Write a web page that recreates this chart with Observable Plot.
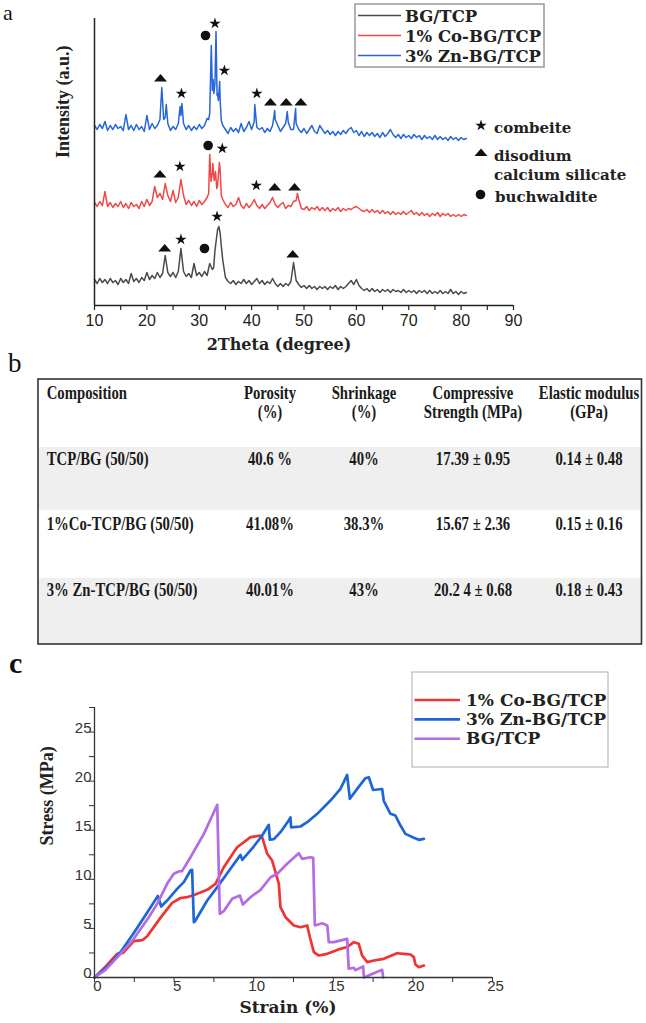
<!DOCTYPE html>
<html>
<head>
<meta charset="utf-8">
<script src="https://cdn.jsdelivr.net/npm/d3@7"></script>
<script src="https://cdn.jsdelivr.net/npm/@observablehq/plot@0.6"></script>
<style>
  body { margin: 0; background: #fff; }
  #fig { position: relative; width: 646px; height: 1023px; overflow: hidden; background: #fff; }
  #fig > svg { position: absolute; left: 0; }
</style>
</head>
<body>
<div id="fig"></div>
<script>
// ---------- (a) XRD patterns ----------
const samples = ["BG/TCP", "1% Co-BG/TCP", "3% Zn-BG/TCP"];
const thetaStart = 10, thetaStep = 0.5;

// intensities (a.u., stacked as displayed) sampled every 0.5° from 10° to 81°
const bgTcpXrd = [
  26,22,27,23,26,22,27,23,25,21,27,23,26,22,32,24,27,23,28,25,33,26,30,27,33,28,
  32,50,33,29,33,28,34,57,34,29,32,28,42,30,33,29,34,30,42,36,55,76,72,45,
  28,24,22,25,21,24,22,26,22,25,21,24,27,22,25,21,24,22,27,22,19,22,19,22,20,24,43,25,21,18,20,17,
  20,17,19,16,19,17,19,16,19,17,20,16,19,17,19,22,25,21,26,20,17,15,17,14,17,14,16,13,16,14,16,13,16,14,15,13,16,13,15,13,15,12,15,13,15,12,15,12,14,12,15,12,14,12,16,12,14,11,14,12,13
];
const coXrd = [
  103,99,104,100,114,99,103,98,102,99,104,98,102,97,103,99,101,97,104,99,106,100,104,119,108,112,
  106,122,110,104,115,103,108,126,110,101,105,100,104,99,105,101,104,108,151,132,128,120,135,106,
  101,98,103,99,101,108,100,97,102,98,101,106,100,97,101,97,100,103,108,101,98,101,103,97,100,99,104,105,106,97,96,99,
  95,98,96,99,95,98,95,98,94,97,95,98,94,97,95,97,96,98,99,97,95,94,96,93,96,93,95,92,95,92,94,91,94,91,93,91,94,91,93,95,91,93,90,93,90,92,89,92,90,93,89,92,90,92,89,91,89,91,89,91,90
];
const znXrd = [
  180,176,181,177,184,175,180,176,181,177,179,175,191,176,180,175,181,176,179,174,190,176,182,177,180,186,
  205,188,182,175,179,176,182,190,182,176,180,175,179,176,181,177,180,187,192,215,222,212,205,180,
  176,172,178,174,177,173,182,174,178,184,176,184,178,176,178,173,177,174,180,186,180,174,178,182,183,176,176,182,176,173,177,172,
  176,180,174,172,180,176,172,175,171,174,170,174,171,175,172,176,178,173,175,170,174,169,173,170,173,169,172,168,173,169,172,176,171,168,171,167,171,168,170,167,171,168,170,166,170,167,169,166,170,166,169,166,168,165,169,166,168,165,168,166,167
];

// sharp reflections between the sampling steps: [2θ, intensity]
const bgTcpPeaks = [[32.75, 38], [33.75, 79], [34.2, 60]];
const coPeaks = [[31.8, 112], [32.25, 124], [32.6, 142], [32.85, 125], [33.1, 134], [33.35, 117], [33.85, 143], [34.2, 110], [48.75, 112]];
const znPeaks = [[22.85, 218], [23.2, 186], [23.7, 201], [26.35, 199], [26.7, 202], [31.8, 186], [32.3, 260], [32.65, 226], [32.8, 212],
  [33.2, 274], [33.4, 210], [33.65, 205], [33.9, 224], [34.2, 185], [40.6, 201], [44.4, 195], [46.8, 194], [48.4, 197]];

// phase markers: [2θ, intensity]
const combeite = [[33.0, 282], [34.8, 235], [26.6, 212], [41.0, 212], [34.4, 157], [26.3, 139], [40.9, 120], [33.4, 89], [26.5, 66]];
const disodiumCalciumSilicate = [[22.6, 227], [43.6, 203], [46.6, 203], [49.4, 203], [22.5, 131], [44.4, 118], [48.2, 118], [23.4, 57], [47.85, 51]];
const buchwaldite = [[31.2, 270], [31.7, 160], [31.0, 57]];

const phaseNames = ["combeite", "disodium", "calcium silicate", "buchwaldite"];
const xrdMajorTicks = [10, 20, 30, 40, 50, 60, 70, 80, 90];
const xrdMinorTicks = [15, 25, 35, 45, 55, 65, 75, 85];

// ---------- (b) table ----------
const tableHeader = [["Composition"], ["Porosity", "(%)"], ["Shrinkage", "(%)"], ["Compressive", "Strength (MPa)"], ["Elastic modulus", "(GPa)"]];
const compositions = ["TCP/BG (50/50)", "1%Co-TCP/BG (50/50)", "3% Zn-TCP/BG (50/50)"];
const porosity = ["40.6 %", "41.08%", "40.01%"];
const shrinkage = ["40%", "38.3%", "43%"];
const compressiveStrength = ["17.39 ± 0.95", "15.67 ± 2.36", "20.2 4 ± 0.68"];
const elasticModulus = ["0.14 ± 0.48", "0.15 ± 0.16", "0.18 ± 0.43"];

// ---------- (c) stress–strain curves: [strain %, stress MPa] ----------
const stressSamples = ["1% Co-BG/TCP", "3% Zn-BG/TCP", "BG/TCP"];
const coStress = [[0,0],[0.69,1.1],[1.42,2.4],[1.8,2.5],[2.47,3.7],[3.0,3.8],[3.31,4.2],[4.15,6.1],[4.88,7.6],[5.4,8.1],[5.82,8.18],[6.34,8.45],
  [7.08,8.93],[7.6,9.54],[8.12,11.23],[8.96,13.27],[9.8,14.29],[10.43,14.46],[10.53,14.3],[10.85,12.6],[11.16,11.91],[11.58,9.54],[11.68,7.16],
  [12.0,6.14],[12.52,5.3],[12.94,5.12],[13.36,5.3],[13.53,4.1],[13.78,2.58],[14.09,2.24],[14.62,2.41],[15.45,2.92],[15.87,3.1],[16.29,3.6],
  [16.6,3.43],[16.81,2.24],[17.13,1.56],[17.55,1.73],[18.17,1.9],[19.01,2.47],[19.43,2.41],[19.85,2.34],[20.06,2.07],[20.16,1.32],[20.37,1.05],[20.69,1.22]];
const znStress = [[0,0],[1.0,1.4],[1.63,2.58],[2.5,4.6],[3.3,6.6],[3.98,8.3],[4.19,7.23],[4.56,7.84],[5.19,9.03],[5.61,9.71],[6.03,10.9],[6.13,10.97],
  [6.24,5.63],[6.34,5.8],[7.08,7.84],[7.71,9.2],[8.54,11.07],[9.17,12.49],[9.28,11.98],[10.0,13.34],[10.53,14.46],[10.95,15.55],[11.01,14.05],
  [11.27,14.1],[11.68,14.8],[12.2,15.99],[12.31,16.3],[12.35,15.3],[12.94,15.38],[13.36,15.82],[13.99,16.67],[14.82,18.02],[15.45,19.21],
  [15.87,20.64],[16.04,18.2],[16.5,19.21],[17.02,20.3],[17.23,20.4],[17.5,19.1],[18.07,19.2],[18.17,18.0],[18.59,16.67],[18.9,16.5],
  [19.22,15.48],[19.53,14.63],[20.06,14.23],[20.37,14.02],[20.69,14.12]];
const bgTcpStress = [[0,0],[0.69,0.78],[1.63,2.41],[2.47,3.94],[3.41,6.14],[3.94,7.5],[4.56,9.54],[4.98,10.56],[5.29,10.8],[5.5,10.83],[6.03,12.25],
  [6.87,14.63],[7.71,17.59],[7.87,6.49],[8.12,6.76],[8.65,8.01],[9.13,8.35],[9.32,7.43],[9.8,8.18],[10.43,8.93],[11.06,10.21],[11.48,10.56],
  [12.1,11.58],[12.83,12.66],[13.04,12.08],[13.57,12.25],[13.74,12.18],[13.84,5.3],[14.3,5.53],[14.62,5.3],[14.72,3.6],[15.03,3.6],[15.87,3.94],
  [15.97,0.89],[16.29,0.99],[16.39,0.75],[16.88,1.12],[16.92,0],[18.07,0.78],[18.13,0]];
const strainLabelTicks = [0, 5, 10, 15, 20, 25];
const strainMinorTicks = [2.5, 7.5, 12.5, 17.5, 22.5];
const stressLabelTicks = [0, 5, 10, 15, 20, 25];
const stressAllTicks = [0, 2.5, 5, 7.5, 10, 12.5, 15, 17.5, 20, 22.5, 25, 27.5];

// ---------- styling ----------
const xrdColors = ["#4b4b4b", "#f04848", "#2766d8"];
const stressColors = ["#ee3434", "#1c66d8", "#b46ce2"];
const SERIF = "'Liberation Serif', 'Times New Roman', serif";
const WIDE_SERIF = "'DejaVu Serif', serif";
const SANS = "'Liberation Sans', Arial, sans-serif";

// a flattened triangle marker
const flatTriangle = {
  draw(ctx, size) {
    const r = Math.sqrt(size / Math.PI), w = r * 1.3, h = r * 1.5;
    ctx.moveTo(0, -h * 0.6); ctx.lineTo(w, h * 0.4); ctx.lineTo(-w, h * 0.4); ctx.closePath();
  }
};
const starR = 3.6, triR = 5, circR = 4.8;

function pattern(values, peaks, name) {
  const pts = values.map((v, i) => ({theta: thetaStart + i * thetaStep, I: v}))
    .concat(peaks.map(([t, v]) => ({theta: t, I: v})));
  pts.sort((a, b) => a.theta - b.theta);
  return pts.map(d => ({...d, sample: name}));
}
const xrd = [
  ...pattern(bgTcpXrd, bgTcpPeaks, samples[0]),
  ...pattern(coXrd, coPeaks, samples[1]),
  ...pattern(znXrd, znPeaks, samples[2])
];

const fig = document.getElementById("fig");

const plotA = Plot.plot({
  width: 646, height: 358,
  marginLeft: 94, marginRight: 133, marginTop: 18, marginBottom: 53,
  style: {fontFamily: SANS, fontSize: "16px", color: "#222", background: "transparent"},
  x: {domain: [10, 90], label: null},
  y: {domain: [0, 287], label: null, axis: null},
  color: {domain: samples, range: xrdColors},
  marks: [
    Plot.line(xrd, {x: "theta", y: "I", z: "sample", stroke: "sample", strokeWidth: 1.5}),
    Plot.dot(combeite, {x: d => d[0], y: d => d[1], symbol: "star", r: starR, fill: "#111", stroke: "none"}),
    Plot.dot(disodiumCalciumSilicate, {x: d => d[0], y: d => d[1], symbol: flatTriangle, r: triR, fill: "#111", stroke: "none"}),
    Plot.dot(buchwaldite, {x: d => d[0], y: d => d[1], symbol: "circle", r: circR, fill: "#111", stroke: "none"}),
    Plot.ruleY([0], {stroke: "#222", strokeWidth: 1.5}),
    Plot.ruleX([10], {stroke: "#222", strokeWidth: 1.5}),
    Plot.axisX({ticks: [...xrdMajorTicks, ...xrdMinorTicks], tickSize: 5, tickFormat: () => "", label: null, strokeWidth: 1.2}),
    Plot.axisX({ticks: xrdMajorTicks, tickSize: 0, tickPadding: 9, label: null, fill: "#222"}),
    Plot.text(["Intensity (a.u.)"], {frameAnchor: "left", dx: -31, dy: -4, rotate: -90,
      fontFamily: SERIF, fontWeight: "bold", fontSize: 18, fill: "#222"}),
    Plot.text(["2Theta (degree)"], {frameAnchor: "bottom", dx: -25, dy: 44,
      fontFamily: WIDE_SERIF, fontWeight: "bold", fontSize: 16, fill: "#222"})
  ]
});
plotA.style.top = "0px";
fig.appendChild(plotA);

const stress = [
  ...coStress.map(([x, y]) => ({strain: x, stress: y, sample: stressSamples[0]})),
  ...znStress.map(([x, y]) => ({strain: x, stress: y, sample: stressSamples[1]})),
  ...bgTcpStress.map(([x, y]) => ({strain: x, stress: y, sample: stressSamples[2]}))
];

const plotC = Plot.plot({
  width: 646, height: 373,
  marginLeft: 94, marginRight: 154, marginTop: 57, marginBottom: 46,
  style: {fontFamily: SANS, fontSize: "15px", color: "#333", background: "transparent"},
  x: {domain: [0, 25], label: null},
  y: {domain: [0, 27.5], label: null},
  color: {domain: stressSamples, range: stressColors},
  marks: [
    Plot.line(stress, {x: "strain", y: "stress", z: "sample", stroke: "sample", strokeWidth: 2.7, strokeLinejoin: "round"}),
    Plot.ruleY([0], {stroke: "#333", strokeWidth: 1.3}),
    Plot.ruleX([0], {stroke: "#333", strokeWidth: 1.3}),
    Plot.axisX({ticks: [...strainLabelTicks, ...strainMinorTicks], tickSize: 5, tickFormat: () => "", label: null}),
    Plot.axisX({ticks: strainLabelTicks, tickSize: 0, tickPadding: 3, dx: 3, label: null, fill: "#333"}),
    Plot.axisY({ticks: stressAllTicks, tickSize: 5, tickFormat: () => "", label: null}),
    Plot.axisY({ticks: stressLabelTicks, tickSize: 0, tickPadding: 3, dy: -4, label: null, fill: "#333"}),
    Plot.text(["Stress (MPa)"], {frameAnchor: "left", dx: -47, dy: 3, rotate: -90,
      fontFamily: SERIF, fontWeight: "bold", fontSize: 18, fill: "#222"}),
    Plot.text(["Strain (%)"], {frameAnchor: "bottom", dx: -5.5, dy: 35,
      fontFamily: WIDE_SERIF, fontWeight: "bold", fontSize: 17, fill: "#222"})
  ]
});
plotC.style.top = "650px";
fig.appendChild(plotC);

// ---------- overlay: panel letters, legends, table ----------
const ov = d3.select(fig).append("svg")
  .attr("width", 646).attr("height", 1023)
  .style("position", "absolute").style("left", 0).style("top", 0);

ov.append("text").attr("x", 3).attr("y", 20).attr("font-family", SERIF).attr("font-size", 22).attr("fill", "#111").text("a");
ov.append("text").attr("x", 8).attr("y", 372).attr("font-family", SERIF).attr("font-size", 27).attr("fill", "#111").text("b");
ov.append("text").attr("x", 9).attr("y", 673).attr("font-family", SERIF).attr("font-weight", "bold").attr("font-size", 30).attr("fill", "#111").text("c");

// legend for (a)
const legA = ov.append("g");
legA.append("rect").attr("x", 355).attr("y", 4).attr("width", 189).attr("height", 63)
  .attr("fill", "none").attr("stroke", "#999").attr("stroke-width", 1.5);
samples.forEach((s, i) => {
  const cy = 15.5 + i * 20;
  legA.append("line").attr("x1", 358).attr("x2", 401).attr("y1", cy).attr("y2", cy)
    .attr("stroke", xrdColors[i]).attr("stroke-width", 1.4);
  legA.append("text").attr("x", 405).attr("y", cy + 6).attr("font-family", WIDE_SERIF).attr("font-weight", "bold")
    .attr("font-size", 16.5).attr("fill", "#222").text(s);
});

// phase key for (a)
const key = ov.append("g").attr("fill", "#111");
key.append("path").attr("transform", "translate(481,125.5)")
  .attr("d", d3.symbol(d3.symbolStar, Math.PI * starR * starR)());
key.append("path").attr("transform", "translate(481,153)")
  .attr("d", d3.symbol(flatTriangle, Math.PI * triR * triR)());
key.append("path").attr("transform", "translate(480.5,194.5)")
  .attr("d", d3.symbol(d3.symbolCircle, Math.PI * circR * circR)());
[[133, 0], [161, 1], [180, 2], [201.5, 3]].forEach(([y, i]) => {
  key.append("text").attr("x", i === 3 ? 495 : 494).attr("y", y).attr("font-family", WIDE_SERIF)
    .attr("font-weight", "bold").attr("font-size", 15).attr("fill", "#222").text(phaseNames[i]);
});

// table (b)
const tb = ov.append("g");
tb.append("rect").attr("x", 39).attr("y", 447).attr("width", 602).attr("height", 63).attr("fill", "#efefef");
tb.append("rect").attr("x", 39).attr("y", 578).attr("width", 602).attr("height", 66).attr("fill", "#efefef");
tb.append("rect").attr("x", 38).attr("y", 379).attr("width", 603.5).attr("height", 265)
  .attr("fill", "none").attr("stroke", "#333").attr("stroke-width", 1.6);
const colX = [46.7, 270, 364, 473, 589];
const condensed = 0.82;
function cell(x, y, txt, start) {
  tb.append("text")
    .attr("transform", `translate(${x},${y}) scale(${condensed},1)`)
    .attr("text-anchor", start ? "start" : "middle")
    .attr("font-family", SERIF).attr("font-weight", "bold").attr("font-size", 18).attr("fill", "#1a1a1a")
    .text(txt);
}
tableHeader.forEach((lines, c) => lines.forEach((t, k) => cell(colX[c], 399 + k * 19, t, c === 0)));
const rowY = [465, 530, 596];
compositions.forEach((t, r) => {
  cell(colX[0], rowY[r], t, true);
  cell(colX[1], rowY[r], porosity[r]);
  cell(colX[2], rowY[r], shrinkage[r]);
  cell(colX[3], rowY[r], compressiveStrength[r]);
  cell(colX[4], rowY[r], elasticModulus[r]);
});

// legend for (c)
const legC = ov.append("g");
legC.append("rect").attr("x", 412).attr("y", 672).attr("width", 196).attr("height", 95)
  .attr("fill", "none").attr("stroke", "#bbb").attr("stroke-width", 1.2);
stressSamples.forEach((s, i) => {
  const cy = 700 + i * 19.4;
  legC.append("line").attr("x1", 414.5).attr("x2", 460).attr("y1", cy).attr("y2", cy)
    .attr("stroke", stressColors[i]).attr("stroke-width", 2.6);
  legC.append("text").attr("x", 466).attr("y", cy + 5.5).attr("font-family", WIDE_SERIF).attr("font-weight", "bold")
    .attr("font-size", 17).attr("fill", "#222").text(s);
});
</script>
</body>
</html>
